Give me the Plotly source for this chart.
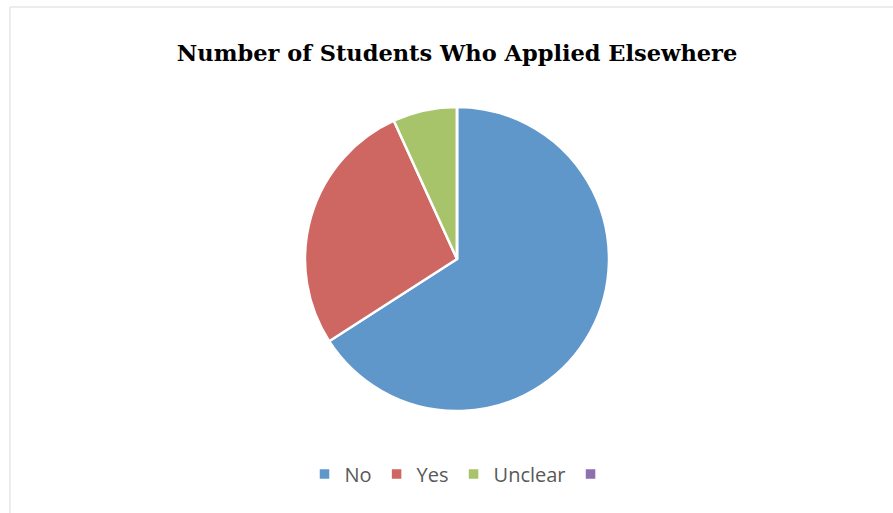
import plotly.graph_objects as go

labels = ["No", "Yes", "Unclear", " "]
values = [29, 12, 3, 0]
colors = ["#5F97CB", "#CE6661", "#A8C46B", "#8E6FB0"]

W, H = 893, 513
cx, cy, r = 457, 259, 152

fig = go.Figure(go.Pie(
    labels=labels, values=values, sort=False, direction="clockwise", rotation=0,
    marker=dict(colors=colors, line=dict(color="white", width=2.5)),
    textinfo="none", hoverinfo="label+value",
    domain=dict(x=[(cx - r) / W, (cx + r) / W], y=[(H - cy - r) / H, (H - cy + r) / H]),
))

fig.update_layout(
    width=W, height=H, margin=dict(l=0, r=0, t=0, b=0),
    paper_bgcolor="white", plot_bgcolor="white",
    title=dict(text="<b>Number of Students Who Applied Elsewhere</b>", x=457 / W, xanchor="center",
               y=1 - 53 / H, yanchor="middle",
               font=dict(family="DejaVu Serif", size=22.5, color="#000000")),
    legend=dict(orientation="h", x=463 / W, xanchor="center", y=(H - 474) / H, yanchor="middle",
                font=dict(family="Open Sans", size=20, color="#595959"), itemwidth=30),
    shapes=[dict(type="rect", xref="paper", yref="paper", x0=10 / W, x1=1.05, y0=-0.05, y1=1 - 7 / H,
                 line=dict(color="#D9D9D9", width=1), fillcolor="rgba(0,0,0,0)")],
)

fig.write_html("out.html", config={"displayModeBar": False},
               post_script="document.body.style.margin='0px';")
